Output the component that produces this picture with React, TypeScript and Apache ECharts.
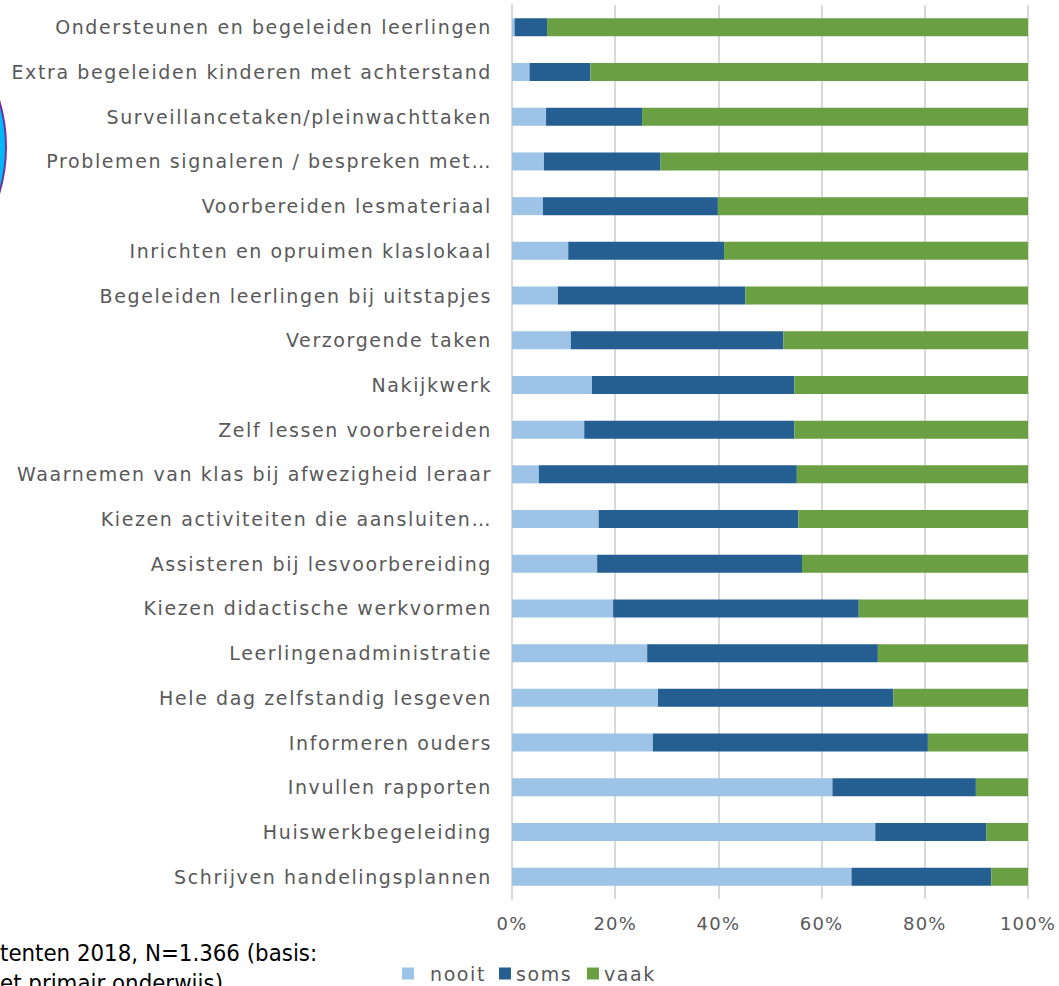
import React, { useEffect, useRef } from "react";
import * as echarts from "echarts";

const categories = [
  "Ondersteunen en begeleiden leerlingen",
  "Extra begeleiden kinderen met achterstand",
  "Surveillancetaken/pleinwachttaken",
  "Problemen signaleren / bespreken met…",
  "Voorbereiden lesmateriaal",
  "Inrichten en opruimen klaslokaal",
  "Begeleiden leerlingen bij uitstapjes",
  "Verzorgende taken",
  "Nakijkwerk",
  "Zelf lessen voorbereiden",
  "Waarnemen van klas bij afwezigheid leraar",
  "Kiezen activiteiten die aansluiten…",
  "Assisteren bij lesvoorbereiding",
  "Kiezen didactische werkvormen",
  "Leerlingenadministratie",
  "Hele dag zelfstandig lesgeven",
  "Informeren ouders",
  "Invullen rapporten",
  "Huiswerkbegeleiding",
  "Schrijven handelingsplannen",
];

const nooit = [0.5, 3.4, 6.6, 6.2, 6.0, 10.9, 8.9, 11.4, 15.5, 14.0, 5.2, 16.8, 16.5, 19.6, 26.2, 28.3, 27.3, 62.1, 70.4, 65.8];
const soms = [6.3, 11.8, 18.6, 22.6, 33.9, 30.2, 36.3, 41.2, 39.2, 40.7, 50.0, 38.7, 39.7, 47.6, 44.7, 45.6, 53.3, 27.8, 21.5, 27.1];
const vaak = [93.2, 84.8, 74.8, 71.2, 60.1, 58.9, 54.8, 47.4, 45.3, 45.3, 44.8, 44.5, 43.8, 32.8, 29.1, 26.1, 19.4, 10.1, 8.1, 7.1];

const seriesNames = ["nooit", "soms", "vaak"];
const xTicks = [0, 20, 40, 60, 80, 100];
const footnoteLines = ["tenten 2018, N=1.366 (basis:", "et primair onderwijs)"];

export default function App() {
  const ref = useRef<HTMLDivElement>(null);
  useEffect(() => {
    document.body.style.margin = "0";
    const chart = echarts.init(ref.current!, null, { renderer: "svg" });
    const colors = ["#9dc3e6", "#255e91", "#6aa043"];
    const values = [nooit, soms, vaak];
    const textColor = "#595959";
    const font = "'DejaVu Sans', Verdana, sans-serif";

    const applySpacing = () => {
      const root = ref.current;
      if (!root) return;
      root.querySelectorAll("text").forEach((t) => {
        const s = t.textContent || "";
        if (footnoteLines.includes(s)) return;
        (t as SVGTextElement).style.letterSpacing = s.endsWith("%") ? "1.2px" : "1.6px";
      });
    };
    chart.on("finished", applySpacing);

    chart.setOption({
      animation: false,
      color: colors,
      grid: { left: 512, right: 31, top: 5, height: 894, containLabel: false },
      xAxis: {
        type: "value",
        min: xTicks[0],
        max: xTicks[xTicks.length - 1],
        interval: 20,
        axisLine: { show: false },
        axisTick: { show: false },
        splitLine: { show: true, lineStyle: { color: "#d9d9d9", width: 2 } },
        axisLabel: {
          color: textColor,
          fontFamily: font,
          fontSize: 18,
          margin: 15,
          formatter: (v: number) => v + "%",
        },
      },
      yAxis: {
        type: "category",
        inverse: true,
        data: categories,
        axisLine: { show: true, lineStyle: { color: "#d9d9d9", width: 2 } },
        axisTick: { show: false },
        axisLabel: {
          color: textColor,
          fontFamily: font,
          fontSize: 19,
          margin: 20,
        },
      },
      legend: {
        top: 959,
        left: 397,
        itemWidth: 12,
        itemHeight: 12,
        itemGap: 21,
        icon: "rect",
        textStyle: { color: textColor, fontFamily: font, fontSize: 19, padding: [0, 0, 0, 0] },
        data: [
          { name: seriesNames[0], textStyle: { padding: [0, 0, 0, 11] } },
          seriesNames[1],
          seriesNames[2],
        ],
      },
      series: seriesNames.map((name, i) => ({
        name,
        type: "bar",
        stack: "total",
        barWidth: 18,
        data: values[i],
        itemStyle: { color: colors[i] },
      })),
      graphic: [
        {
          type: "circle",
          shape: { cx: -154, cy: 147, r: 160 },
          style: { fill: "#00b8f5", stroke: "#7030a0", lineWidth: 2 },
        },
        {
          type: "text",
          x: 0,
          y: 941,
          scaleX: 0.93,
          style: { text: footnoteLines[0], fill: "#000000", font: `23px ${font}` },
        },
        {
          type: "text",
          x: 0,
          y: 971,
          scaleX: 0.93,
          style: { text: footnoteLines[1], fill: "#000000", font: `23px ${font}` },
        },
      ],
    });
    applySpacing();
    return () => chart.dispose();
  }, []);
  return <div ref={ref} style={{ width: 1059, height: 986 }} />;
}
